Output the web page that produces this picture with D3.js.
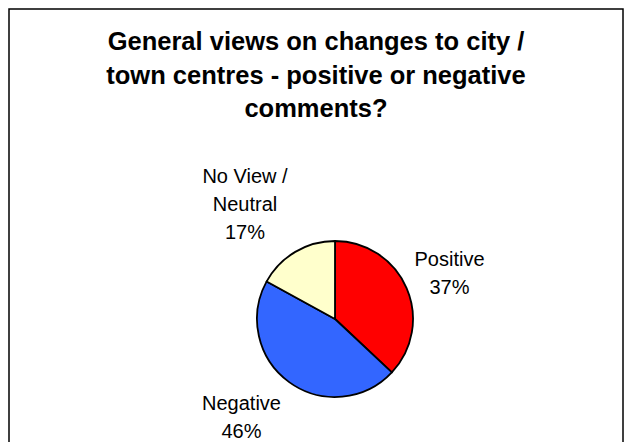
<!DOCTYPE html>
<html><head><meta charset="utf-8">
<script src="https://cdn.jsdelivr.net/npm/d3@7"></script>
<style>body{margin:0;background:#fff}svg{display:block}</style>
</head><body>
<script>
const titleLines = ["General views on changes to city /", "town centres - positive or negative", "comments?"];
const categories = ["Positive", "Negative", "No View / Neutral"];
const values = [37, 46, 17];
const labelLines = [["Positive", "37%"], ["Negative", "46%"], ["No View /", "Neutral", "17%"]];
const colors = ["#FF0000", "#3366FF", "#FFFFCC"];

const W = 629, H = 442;
const svg = d3.select("body").append("svg").attr("width", W).attr("height", H);
svg.append("rect").attr("width", W).attr("height", H).attr("fill", "#fff");
svg.append("rect").attr("x", 9).attr("y", 9).attr("width", 614).attr("height", 440)
  .attr("fill", "none").attr("stroke", "#000").attr("stroke-width", 1.5);

const font = "Liberation Sans, Arial, sans-serif";
svg.append("g").selectAll("text").data(titleLines).join("text")
  .attr("x", 316).attr("y", (d, i) => 50 + i * 33.5)
  .attr("text-anchor", "middle").attr("font-family", font)
  .attr("font-weight", "bold").attr("font-size", 25.5).attr("fill", "#000")
  .text(d => d);

const cx = 335, cy = 319, r = 78;
const pie = d3.pie().sort(null).value(d => d)(values);
const arc = d3.arc().innerRadius(0).outerRadius(r);
const g = svg.append("g").attr("transform", `translate(${cx},${cy})`);
g.selectAll("path").data(pie).join("path")
  .attr("d", arc).attr("fill", (d, i) => colors[i])
  .attr("stroke", "#000").attr("stroke-width", 1.8).attr("stroke-linejoin", "round");

const labelPos = [[449.5, 266], [241.5, 410], [245, 183]];
labelLines.forEach((lines, i) => {
  svg.append("g").selectAll("text").data(lines).join("text")
    .attr("x", labelPos[i][0]).attr("y", (d, j) => labelPos[i][1] + j * 27.8)
    .attr("text-anchor", "middle").attr("font-family", font)
    .attr("font-size", 20).attr("fill", "#000").text(d => d);
});
</script>
</body></html>
